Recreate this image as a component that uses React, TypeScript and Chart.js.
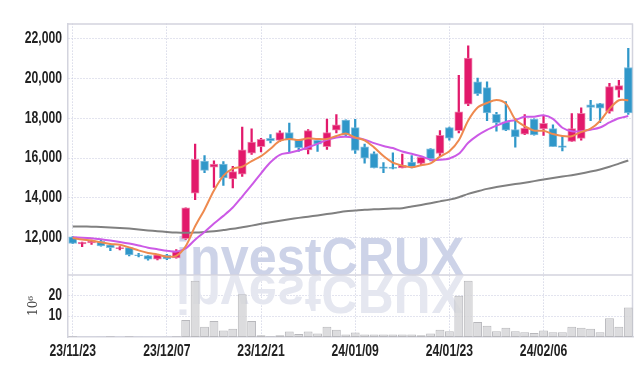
import React, { useEffect, useRef } from 'react';
import { Chart, registerables } from 'chart.js';

Chart.register(...registerables);

const dates = [
  '23/11/23', '23/11/24', '23/11/27', '23/11/28', '23/11/29', '23/11/30', '23/12/01', '23/12/04', '23/12/05', '23/12/06',
  '23/12/07', '23/12/08', '23/12/11', '23/12/12', '23/12/13', '23/12/14', '23/12/15', '23/12/18', '23/12/19', '23/12/20',
  '23/12/21', '23/12/22', '23/12/26', '23/12/27', '23/12/28', '24/01/02', '24/01/03', '24/01/04', '24/01/05', '24/01/08',
  '24/01/09', '24/01/10', '24/01/11', '24/01/12', '24/01/15', '24/01/16', '24/01/17', '24/01/18', '24/01/19', '24/01/22',
  '24/01/23', '24/01/24', '24/01/25', '24/01/26', '24/01/29', '24/01/30', '24/01/31', '24/02/01', '24/02/02', '24/02/05',
  '24/02/06', '24/02/07', '24/02/08', '24/02/13', '24/02/14', '24/02/15', '24/02/16', '24/02/19', '24/02/20', '24/02/21',
];

const openP = [
  12030, 11680, 11730, 11810, 11630, 11440, 11490, 11130, 11090, 10910,
  11120, 10980, 11940, 14230, 15850, 15540, 15700, 14950, 15190, 16250,
  16580, 17000, 16890, 17290, 16920, 16410, 16900, 16580, 17400, 17910,
  17530, 16570, 16230, 15560, 15530, 15510, 15800, 15735, 16470, 16230,
  17540, 17385, 18720, 19840, 19550, 18200, 17820, 17430, 17210, 17960,
  17470, 17480, 16620, 16840, 16990, 18680, 18750, 18350, 19420, 20560,
];
const highP = [
  12050, 11770, 11870, 11870, 11640, 11540, 11500, 11200, 11090, 11150,
  11160, 11400, 13500, 16710, 16120, 15860, 15830, 15590, 17560, 17470,
  17000, 17180, 17370, 17760, 16930, 17430, 16920, 17960, 18190, 17920,
  17950, 16710, 16310, 15780, 16260, 16200, 16120, 16090, 16480, 17390,
  17560, 20160, 21650, 20030, 19840, 18300, 18840, 18000, 18190, 17970,
  18140, 17670, 17080, 18240, 18525, 18910, 18760, 19760, 19920, 21520,
];
const lowP = [
  11690, 11540, 11660, 11560, 11340, 11380, 11080, 11030, 10860, 10880,
  10890, 10960, 11900, 13910, 15270, 14520, 14630, 14500, 15080, 16180,
  16310, 16760, 16840, 16310, 16340, 16215, 16330, 16440, 17270, 17100,
  16230, 15750, 15500, 15260, 15460, 15500, 15510, 15640, 15860, 16120,
  16900, 17270, 18640, 19160, 17880, 17350, 17380, 16550, 17180, 17150,
  17145, 16580, 16360, 16840, 16900, 17880, 17780, 18265, 19070, 18200,
];
const closeP = [
  11700, 11760, 11840, 11580, 11490, 11490, 11120, 11090, 10910, 11130,
  10930, 11330, 13500, 15940, 15380, 15700, 15000, 15320, 16420, 16810,
  16950, 16860, 17290, 16920, 16520, 17385, 16700, 17290, 17670, 17150,
  16380, 15990, 15510, 15480, 15480, 15640, 15570, 16040, 15960, 17140,
  17000, 18330, 21040, 19230, 18270, 17780, 17400, 17060, 17510, 17160,
  17750, 16580, 16540, 17480, 18250, 18550, 18510, 19600, 19645, 18270,
];
// volume, in millions of shares
const volume = [
  0.3, 0.05, 0.05, 0.1, 0.3, 0.05, 0.3, 0.1, 0.05, 0.05,
  0.1, 0.4, 8.1, 26.9, 4.9, 7.7, 3.1, 4.0, 20.5, 7.7,
  0.8, 0.4, 0.8, 2.6, 1.4, 2.6, 1.7, 4.9, 3.5, 1.2,
  2.2, 1.2, 1.2, 1.2, 1.2, 1.2, 1.2, 0.8, 1.7, 3.5,
  2.8, 19.7, 26.9, 7.2, 5.4, 2.8, 4.4, 2.8, 2.3, 1.9,
  3.1, 2.3, 2.3, 4.9, 4.4, 4.0, 2.3, 9.0, 4.9, 14.1,
];
const ma5 = [
  11980, 11900, 11850, 11760, 11674, 11632, 11504, 11354, 11220, 11148,
  11036, 11078, 11560, 12566, 13416, 14370, 15104, 15468, 15564, 15850,
  16100, 16472, 16866, 16966, 16908, 16995, 16963, 16963, 17113, 17239,
  17038, 16896, 16540, 16102, 15768, 15620, 15536, 15642, 15738, 16070,
  16342, 16894, 17894, 18548, 18774, 18930, 18744, 17948, 17604, 17382,
  17376, 17212, 17108, 17102, 17320, 17480, 17866, 18478, 18911, 18915,
];
const ma10 = [
  12010, 11990, 11960, 11910, 11850, 11780, 11700, 11600, 11490, 11411,
  11334, 11291, 11457, 11893, 12282, 12703, 13091, 13514, 14065, 14633,
  15235, 15788, 16167, 16265, 16379, 16548, 16718, 16915, 17040, 17074,
  17017, 16930, 16752, 16608, 16504, 16329, 16216, 16091, 15920, 15919,
  15981, 16215, 16768, 17143, 17422, 17636, 17819, 17921, 18076, 18078,
  18153, 17978, 17528, 17353, 17351, 17428, 17539, 17793, 18007, 18118,
];
const ma60 = [
  12560, 12555, 12545, 12530, 12510, 12480, 12450, 12410, 12360, 12320,
  12280, 12250, 12240, 12250, 12280, 12320, 12380, 12440, 12520, 12600,
  12690, 12770, 12850, 12920, 12990, 13050, 13110, 13180, 13250, 13320,
  13360, 13400, 13420, 13440, 13460, 13480, 13560, 13640, 13730, 13820,
  13910, 14030, 14200, 14330, 14450, 14540, 14620, 14690, 14760, 14840,
  14920, 15000, 15070, 15140, 15220, 15320, 15430, 15560, 15720, 15880,
];
const priceTicks = [12000, 14000, 16000, 18000, 20000, 22000];
const volumeTicks = [10, 20];

const PINK = '#e2196b';
const BLUE = '#2f97c9';
const PINK_HALO = 'rgba(236,120,165,0.9)';
const BLUE_HALO = 'rgba(120,185,220,0.9)';
const GRID = '#c6c9de';
const FRAME = '#d3d4de';
const TEXT = '#222222';
const TICK_FONT = { family: '"Liberation Sans", sans-serif', size: 16, weight: 'bold' as const };
const CONDENSE = 0.76;

// Draw a scale's tick labels horizontally condensed (the reference uses a narrow face).
function condenseLabels(s: any) {
  if (s.__condensed) return;
  s.__condensed = true;
  const orig = Object.getPrototypeOf(s).drawLabels;
  s.drawLabels = function (area: any) {
    const ctx = this.ctx;
    const f = ctx.fillText;
    ctx.fillText = function (t: string, x: number, y: number, m?: number) {
      this.save();
      this.translate(x, y);
      this.scale(CONDENSE, 1);
      if (m === undefined) f.call(this, t, 0, 0);
      else f.call(this, t, 0, 0, m / CONDENSE);
      this.restore();
    };
    try {
      orig.call(this, area);
    } finally {
      ctx.fillText = f;
    }
  };
}

export default function App() {
  const ref = useRef<HTMLCanvasElement>(null);

  useEffect(() => {
    if (!ref.current) return;
    const isUp = closeP.map((c, i) => c >= openP[i]);
    const candleColor = isUp.map((u) => (u ? PINK : BLUE));
    const haloColor = isUp.map((u) => (u ? PINK_HALO : BLUE_HALO));

    const watermark = {
      id: 'watermark',
      beforeDatasetsDraw(chart: any) {
        const { ctx, chartArea, scales } = chart;
        const text = 'investCRUX';
        const base = scales.y.bottom;
        const x0 = chartArea.left + 108;
        ctx.save();
        ctx.beginPath();
        ctx.rect(chartArea.left, chartArea.top, chartArea.right - chartArea.left, chartArea.bottom - chartArea.top);
        ctx.clip();
        ctx.font = 'bold 54px "Liberation Sans", sans-serif';
        ctx.textBaseline = 'alphabetic';
        const w = ctx.measureText(text).width;
        const sx = 288 / w;
        ctx.save();
        ctx.translate(x0, base);
        ctx.scale(sx, 1);
        ctx.fillStyle = '#cdd3e8';
        ctx.fillText(text, 0, 0);
        ctx.restore();
        ctx.save();
        ctx.translate(x0, base + 1);
        ctx.scale(sx, -1);
        ctx.fillStyle = '#e5e7f0';
        ctx.fillText(text, 0, 0);
        ctx.restore();
        ctx.restore();

        // frame lines
        ctx.save();
        ctx.strokeStyle = FRAME;
        ctx.lineWidth = 1.5;
        ctx.beginPath();
        ctx.moveTo(chartArea.left, chartArea.top + 0.5);
        ctx.lineTo(chartArea.right, chartArea.top + 0.5);
        ctx.moveTo(chartArea.right - 0.5, chartArea.top);
        ctx.lineTo(chartArea.right - 0.5, chartArea.bottom);
        ctx.moveTo(chartArea.left, base);
        ctx.lineTo(chartArea.right, base);
        ctx.stroke();
        ctx.restore();
      },
    };

    const chart = new Chart(ref.current, {
      type: 'bar',
      data: {
        labels: dates,
        datasets: [
          {
            type: 'line',
            data: ma5,
            borderColor: '#ee8a4f',
            borderWidth: 2,
            pointRadius: 0,
            tension: 0.3,
            yAxisID: 'y',
            order: 1,
          } as any,
          {
            type: 'line',
            data: ma10,
            borderColor: '#cc5ae6',
            borderWidth: 2,
            pointRadius: 0,
            tension: 0.3,
            yAxisID: 'y',
            order: 1,
          } as any,
          {
            type: 'line',
            data: ma60,
            borderColor: '#808080',
            borderWidth: 2,
            pointRadius: 0,
            tension: 0.3,
            yAxisID: 'y',
            order: 1,
          } as any,
          {
            type: 'bar',
            data: openP.map((o, i) => [o, closeP[i]]),
            backgroundColor: candleColor,
            borderColor: haloColor,
            borderWidth: 1,
            borderSkipped: false,
            barThickness: 8,
            grouped: false,
            yAxisID: 'y',
            order: 2,
          } as any,
          {
            type: 'bar',
            data: lowP.map((l, i) => [l, highP[i]]),
            backgroundColor: candleColor,
            borderWidth: 0,
            barThickness: 1.6,
            grouped: false,
            yAxisID: 'y',
            order: 3,
          } as any,
          {
            type: 'bar',
            data: volume,
            backgroundColor: 'rgba(214,214,216,0.85)',
            borderColor: '#b8b8bc',
            borderWidth: 1,
            borderSkipped: false,
            barPercentage: 0.94,
            categoryPercentage: 1,
            grouped: false,
            yAxisID: 'yv',
            order: 4,
          } as any,
        ],
      },
      options: {
        animation: false,
        responsive: true,
        maintainAspectRatio: false,
        devicePixelRatio: 1,
        layout: { padding: { top: 1, right: 1, left: 0, bottom: 0 } },
        plugins: { legend: { display: false }, tooltip: { enabled: false } },
        scales: {
          x: {
            type: 'category',
            offset: true,
            grid: {
              offset: false,
              drawTicks: false,
              color: (c: any) => (c.index % 10 === 0 ? GRID : 'transparent'),
            },
            border: { display: true, color: FRAME, width: 1.5, dash: [1, 2] },
            ticks: {
              autoSkip: false,
              maxRotation: 0,
              minRotation: 0,
              padding: 5,
              color: TEXT,
              font: TICK_FONT,
              callback: (_v: any, i: number) => (i % 10 === 0 ? dates[i] : ''),
            },
            afterFit: (s: any) => {
              s.height = 21;
              condenseLabels(s);
            },
          },
          yv: {
            type: 'linear',
            position: 'left',
            stack: 'panels',
            stackWeight: 65,
            min: 0,
            max: 29.7,
            afterBuildTicks: (s: any) => {
              s.ticks = volumeTicks.map((v) => ({ value: v }));
            },
            afterFit: (s: any) => {
              s.width = 60;
              condenseLabels(s);
            },
            grid: { color: GRID, drawTicks: false },
            border: { color: FRAME, width: 1.5, dash: [1, 2] },
            title: {
              display: true,
              text: '10⁶',
              color: '#444444',
              font: { family: '"DejaVu Serif", serif', size: 12 },
              padding: { top: 19, bottom: 0 },
            },
            ticks: {
              padding: 6,
              color: TEXT,
              font: TICK_FONT,
              callback: (v: any) => String(v),
            },
          },
          y: {
            type: 'linear',
            position: 'left',
            stack: 'panels',
            stackWeight: 263,
            min: 10120,
            max: 22770,
            afterBuildTicks: (s: any) => {
              s.ticks = priceTicks.map((v) => ({ value: v }));
            },
            afterFit: (s: any) => {
              s.width = 60;
              condenseLabels(s);
            },
            grid: { color: GRID, drawTicks: false },
            border: { color: FRAME, width: 1.5, dash: [1, 2] },
            ticks: {
              padding: 6,
              color: TEXT,
              font: TICK_FONT,
              callback: (v: any) => Number(v).toLocaleString('en-US'),
            },
          },
        },
      } as any,
      plugins: [watermark],
    });

    return () => chart.destroy();
  }, []);

  return (
    <div style={{ width: 626, height: 350, position: 'relative' }}>
      <canvas ref={ref} />
    </div>
  );
}
